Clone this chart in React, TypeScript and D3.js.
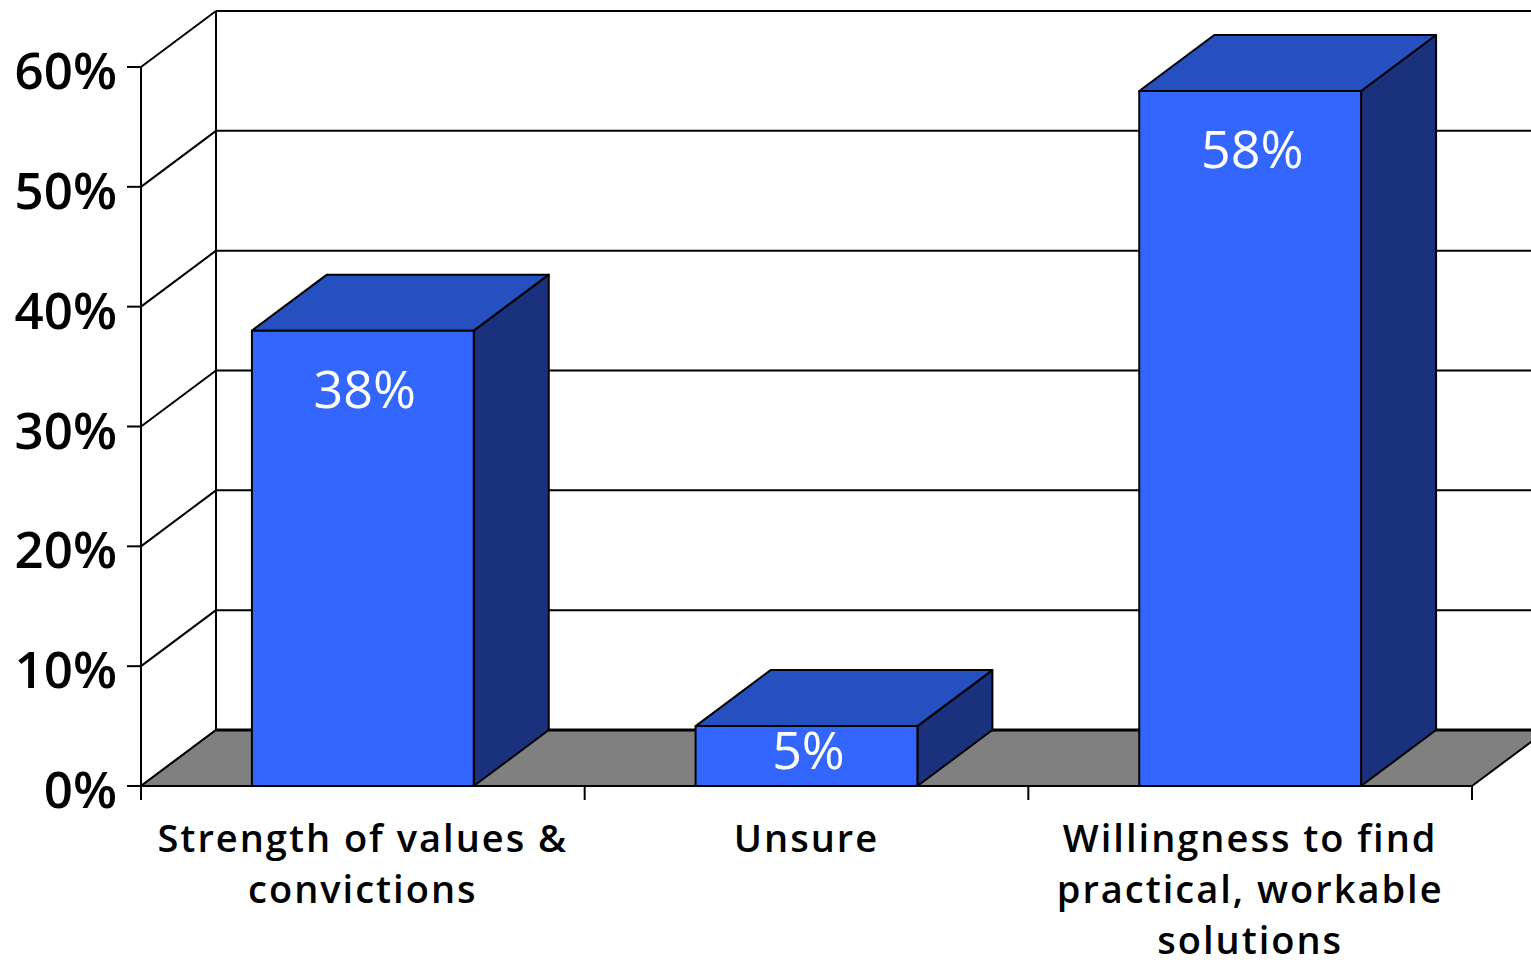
import React from "react";
import * as d3 from "d3";

const categories = ["Strength of values & convictions", "Unsure", "Willingness to find practical, workable solutions"];
const categoryLines = [["Strength of values &", "convictions"], ["Unsure"], ["Willingness to find", "practical, workable", "solutions"]];
const values = [38, 5, 58];
const yTicks = [0, 10, 20, 30, 40, 50, 60];

const W = 1531, H = 963;
const DX = 75, DY = -56;
const FONT = "'Open Sans', 'Noto Sans', sans-serif";

export default function App() {
  const x = d3.scaleBand<string>().domain(categories).range([141, 1472]).paddingInner(0.5).paddingOuter(0.25);
  const y = d3.scaleLinear().domain([0, 60]).range([786, 67]);
  const x0 = 141, x1 = 1472;
  const y0 = y(0);
  const step = x.step();
  const boundaries = d3.range(categories.length + 1).map((i) => x0 + i * step);

  return (
    <svg width={W} height={H} style={{ position: "absolute", left: 0, top: 0, background: "#fff" }}>
      {yTicks.map((t) => (
        <g key={t}>
          <line x1={x0} y1={y(t)} x2={x0 + DX} y2={y(t) + DY} stroke="#000" strokeWidth={2} />
          <line x1={x0 + DX} y1={y(t) + DY} x2={W + 20} y2={y(t) + DY} stroke="#000" strokeWidth={2} />
        </g>
      ))}
      <line x1={x0 + DX} y1={y(60) + DY} x2={x0 + DX} y2={y0 + DY} stroke="#000" strokeWidth={2} />
      <polygon
        points={`${x0},${y0} ${x1},${y0} ${x1 + DX},${y0 + DY} ${x0 + DX},${y0 + DY}`}
        fill="#808080" stroke="#000" strokeWidth={2} strokeLinejoin="round"
      />
      <line x1={x0 + DX} y1={y0 + DY} x2={x1 + DX} y2={y0 + DY} stroke="#000" strokeWidth={3} />
      {categories.map((c, i) => {
        const bx = x(c)!;
        const bw = x.bandwidth();
        const top = y(values[i]);
        return (
          <g key={c} stroke="#000" strokeWidth={2} strokeLinejoin="round">
            <polygon points={`${bx + bw},${top} ${bx + bw + DX},${top + DY} ${bx + bw + DX},${y0 + DY} ${bx + bw},${y0}`} fill="#1A327D" />
            <polygon points={`${bx},${top} ${bx + DX},${top + DY} ${bx + bw + DX},${top + DY} ${bx + bw},${top}`} fill="#2650BF" />
            <rect x={bx} y={top} width={bw} height={y0 - top} fill="#3366FF" />
          </g>
        );
      })}
      {categories.map((c, i) => {
        const bx = x(c)!;
        const bw = x.bandwidth();
        const top = y(values[i]);
        const baseline = Math.min(top + 77, y0 - 17);
        return (
          <text key={c} x={bx + bw / 2 + 2} y={baseline} textAnchor="middle" fill="#fff" fontFamily={FONT} fontSize={52} fontWeight={400}>
            {values[i]}%
          </text>
        );
      })}
      <line x1={x0} y1={y(60)} x2={x0} y2={y0 + 14} stroke="#000" strokeWidth={2} />
      <line x1={x0} y1={y0} x2={x1} y2={y0} stroke="#000" strokeWidth={2} />
      {boundaries.map((bx, i) => (
        <line key={i} x1={bx} y1={y0} x2={bx} y2={y0 + 14} stroke="#000" strokeWidth={2} />
      ))}
      {yTicks.map((t) => (
        <g key={t}>
          <line x1={x0 - 14} y1={y(t)} x2={x0} y2={y(t)} stroke="#000" strokeWidth={2} />
          <text x={117} y={y(t) + 22} textAnchor="end" fontFamily={FONT} fontSize={51} fontWeight={600} fill="#000">
            {t}%
          </text>
        </g>
      ))}
      {categories.map((c, i) => (
        <text key={c} textAnchor="middle" fontFamily={FONT} fontSize={38} fontWeight={600} fill="#000" letterSpacing={2}>
          {categoryLines[i].map((ln, j) => (
            <tspan key={j} x={x(c)! + x.bandwidth() / 2} y={852 + j * 51}>{ln}</tspan>
          ))}
        </text>
      ))}
    </svg>
  );
}
